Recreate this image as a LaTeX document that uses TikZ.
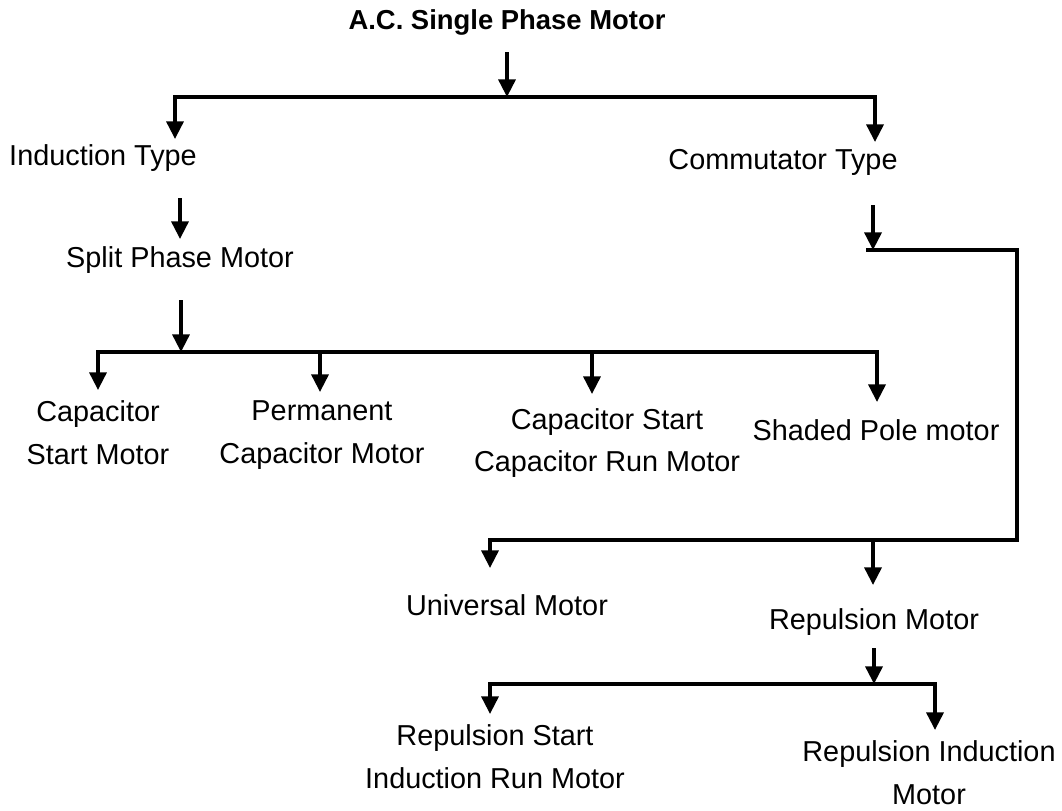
\documentclass[tikz,border=0pt]{standalone}
\usepackage{fontspec}
\setmainfont{Liberation Sans}
\usetikzlibrary{arrows.meta,positioning}
\tikzset{>=Stealth}

\begin{document}
\begin{tikzpicture}[
    x=0.025cm, y=-0.025cm,
    label/.style={inner sep=0pt, align=center, font=\fontsize{20.5}{30.5}\selectfont},
    heading/.style={label, font=\fontsize{19.5}{24}\selectfont\bfseries},
    line/.style={line width=2.6pt, line cap=rect},
    arrow/.style={line width=2.6pt, -{Triangle[length=12.5pt,width=12pt]}}
]
    \useasboundingbox (0,0) rectangle (1062,810);

    \node[heading] (ac) at (507,22) {A.C. Single Phase Motor};
    \node[label] (ind) at (103,158) {Induction Type};
    \node[label] (com) at (783,162) {Commutator Type};
    \node[label] (split) at (180,260) {Split Phase Motor};
    \node[label] (csm) at (98,433) {Capacitor\\Start Motor};
    \node[label] (pcm) at (322,435) {Permanent\\Capacitor Motor};
    \node[label] (cscr) at (607,443) {Capacitor Start\\Capacitor Run Motor};
    \node[label] (spm) at (876,430) {Shaded Pole motor};
    \node[label] (um) at (507,605) {Universal Motor};
    \node[label] (rm) at (874,622) {Repulsion Motor};
    \node[label] (rsir) at (495,757) {Repulsion Start\\Induction Run Motor};
    \node[label] (rim) at (929,773) {Repulsion Induction\\Motor};

    \coordinate (ac-s) at (507,52);
    \coordinate (ac-j) at (507,97);
    \coordinate (ind-j) at (175,97);
    \coordinate (com-j) at (875,97);
    \coordinate (ind-s) at (180,198);
    \coordinate (split-t) at (180,239);
    \coordinate (split-s) at (181,300);
    \coordinate (split-j) at (181,352);
    \coordinate (csm-j) at (98,352);
    \coordinate (pcm-j) at (320,352);
    \coordinate (cscr-j) at (592,352);
    \coordinate (spm-j) at (877,352);
    \coordinate (com-s) at (873,205);
    \coordinate (com-j1) at (873,250);
    \coordinate (com-c1) at (1017,250);
    \coordinate (com-c2) at (1017,540);
    \coordinate (um-j) at (490,540);
    \coordinate (rm-j) at (873,540);
    \coordinate (rm-s) at (874,648);
    \coordinate (rm-j2) at (874,684);
    \coordinate (rsir-j) at (490,684);
    \coordinate (rim-j) at (935,684);

    \draw[arrow] (ac-s) -- (ac-j);
    \draw[line] (ind-j) -- (com-j);
    \draw[arrow] (ind-j) -- ++(0,42);
    \draw[arrow] (com-j) -- ++(0,45);

    \draw[arrow] (ind-s) -- (split-t);
    \draw[arrow] (split-s) -- (split-j);
    \draw[line] (csm-j) -- (spm-j);
    \draw[arrow] (csm-j) -- ++(0,38);
    \draw[arrow] (pcm-j) -- ++(0,40);
    \draw[arrow] (cscr-j) -- ++(0,42);
    \draw[arrow] (spm-j) -- ++(0,50);

    \draw[arrow] (com-s) -- (com-j1);
    \draw[line] (868,250) -- (com-c1) -- (com-c2) -- (um-j);
    \draw[arrow] (um-j) -- ++(0,28);
    \draw[arrow] (rm-j) -- ++(0,45);

    \draw[arrow] (rm-s) -- (rm-j2);
    \draw[line] (rsir-j) -- (rim-j);
    \draw[arrow] (rsir-j) -- ++(0,30);
    \draw[arrow] (rim-j) -- ++(0,46);
\end{tikzpicture}
\end{document}
